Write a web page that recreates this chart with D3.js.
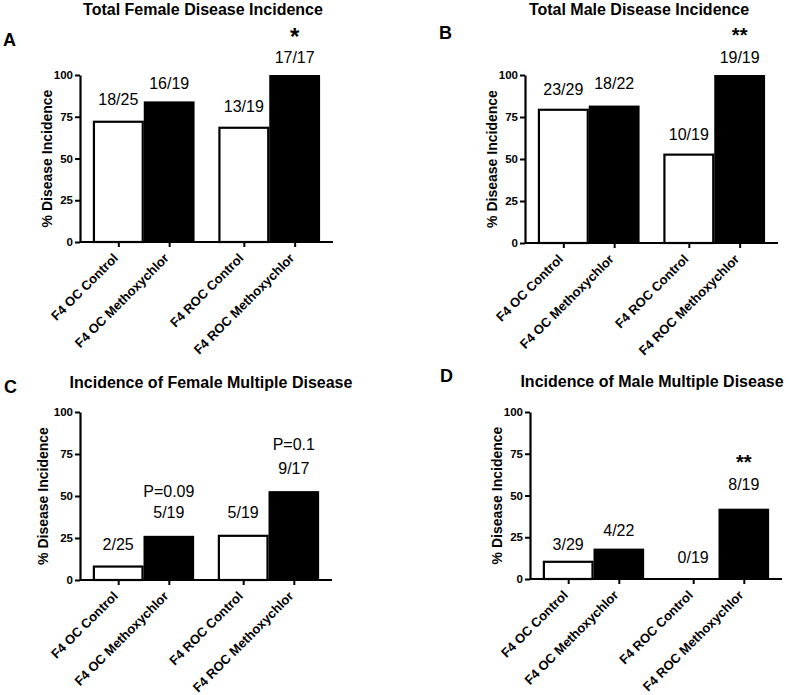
<!DOCTYPE html>
<html>
<head>
<meta charset="utf-8">
<script src="https://cdn.jsdelivr.net/npm/d3@7"></script>
<style>
  body { margin: 0; background: #fff; }
  svg { display: block; font-family: "Liberation Sans", Arial, sans-serif; }
</style>
</head>
<body>
<svg id="chart" width="790" height="695"></svg>
<script>
// ---------- Data ----------
const categories = ["F4 OC Control", "F4 OC Methoxychlor", "F4 ROC Control", "F4 ROC Methoxychlor"];
const isTreated = [false, true, false, true];
const yTicks = [0, 25, 50, 75, 100];

const femaleTotalPct = [72.0, 84.2, 68.4, 100];
const femaleTotalLabels = ["18/25", "16/19", "13/19", "17/17"];
const femaleTotalLabelY = [82, 91.6, 77.8, 107];

const maleTotalPct = [79.3, 81.8, 52.6, 100];
const maleTotalLabels = ["23/29", "18/22", "10/19", "19/19"];
const maleTotalLabelY = [88, 91.7, 61.3, 107];

const femaleMultiPct = [8.0, 26.3, 26.3, 52.9];
const femaleMultiLabels = ["2/25", "5/19", "5/19", "9/17"];
const femaleMultiLabelY = [17.9, 36.9, 36.9, 63];

const maleMultiPct = [10.3, 18.2, 0, 42.1];
const maleMultiLabels = ["3/29", "4/22", "0/19", "8/19"];
const maleMultiLabelY = [17.4, 25.7, 9.6, 53.3];

// significance / p-value annotations: [category index, text, y (in % units)]
const femaleTotalSig = [[3, "*", 118]];
const maleTotalSig = [[3, "**", 119.6]];
const femaleMultiSig = [[1, "P=0.09", 49.4], [3, "P=0.1", 77.4]];
const maleMultiSig = [[3, "**", 65.9]];

const titles = ["Total Female Disease Incidence", "Total Male Disease Incidence",
                "Incidence of Female Multiple Disease", "Incidence of Male Multiple Disease"];
const panelLetters = ["A", "B", "C", "D"];
const yAxisTitle = "% Disease Incidence";

// ---------- Layout ----------
const panels = [
  { values: femaleTotalPct, labels: femaleTotalLabels, labelY: femaleTotalLabelY, sig: femaleTotalSig,
    x0: 80, x1: 333, yTop: 75, yBot: 242, title: titles[0], tx: 203, ty: 15, letter: panelLetters[0], lx: 3, ly: 46, atx: 52, sigSize: 24 },
  { values: maleTotalPct, labels: maleTotalLabels, labelY: maleTotalLabelY, sig: maleTotalSig,
    x0: 525, x1: 778, yTop: 75, yBot: 243, title: titles[1], tx: 639, ty: 15, letter: panelLetters[1], lx: 439, ly: 39, atx: 497, sigSize: 20 },
  { values: femaleMultiPct, labels: femaleMultiLabels, labelY: femaleMultiLabelY, sig: femaleMultiSig,
    x0: 80, x1: 332, yTop: 412, yBot: 580, title: titles[2], tx: 211, ty: 388, letter: panelLetters[2], lx: 4, ly: 393, atx: 48, sigSize: 15 },
  { values: maleMultiPct, labels: maleMultiLabels, labelY: maleMultiLabelY, sig: maleMultiSig,
    x0: 530, x1: 782, yTop: 412, yBot: 579, title: titles[3], tx: 652, ty: 387, letter: panelLetters[3], lx: 440, ly: 382, atx: 502, sigSize: 20 }
];

const svg = d3.select("#chart");
const FONT = "'Liberation Sans', Arial, sans-serif";

panels.forEach(p => {
  const g = svg.append("g");

  const y = d3.scaleLinear().domain([0, 100]).range([p.yBot, p.yTop]);
  const xGroup = d3.scaleBand().domain(["OC", "ROC"]).range([p.x0, p.x1])
    .paddingInner(0.19).paddingOuter(0.103);
  const xInner = d3.scaleBand().domain([0, 1]).range([0, xGroup.bandwidth()]);
  const xPos = i => xGroup(i < 2 ? "OC" : "ROC") + xInner(i % 2);
  const bw = xInner.bandwidth();
  const xCenter = i => xPos(i) + bw / 2;

  // bars
  g.selectAll("rect.bar").data(p.values).join("rect")
    .attr("class", "bar")
    .attr("x", (d, i) => xPos(i) + (isTreated[i] ? 0 : 1))
    .attr("width", (d, i) => bw - (isTreated[i] ? 0 : 2))
    .attr("y", d => y(d))
    .attr("height", d => Math.max(0, p.yBot - y(d)))
    .attr("fill", (d, i) => isTreated[i] ? "#000" : "#fff")
    .attr("stroke", "#000")
    .attr("stroke-width", (d, i) => isTreated[i] ? 0 : 2.2)
    .style("display", d => d > 0 ? null : "none");

  // y axis
  const yAxis = d3.axisLeft(y).tickValues(yTicks).tickSize(5).tickSizeOuter(0).tickPadding(2);
  const ya = g.append("g").attr("transform", `translate(${p.x0},0)`).call(yAxis);
  ya.select(".domain").attr("stroke-width", 2.2);
  ya.selectAll(".tick line").attr("stroke-width", 2);
  ya.selectAll(".tick text").attr("font-size", 11.5).attr("font-weight", "bold")
    .attr("font-family", FONT).attr("fill", "#000");

  // x axis (ticks at bar centers)
  const xTickScale = d3.scaleOrdinal().domain(categories).range(categories.map((c, i) => xCenter(i)));
  const xAxisFn = d3.axisBottom(xTickScale).tickSize(5).tickSizeOuter(0);
  const xa = g.append("g").attr("transform", `translate(0,${p.yBot})`).call(xAxisFn);
  xa.select(".domain").attr("d", `M${p.x0},0H${p.x1}`).attr("stroke-width", 2.2);
  xa.selectAll(".tick line").attr("stroke-width", 2);
  xa.selectAll(".tick text")
    .attr("font-size", 13).attr("font-weight", "bold")
    .attr("font-family", FONT).attr("fill", "#000")
    .attr("x", 0).attr("y", 0).attr("dy", 0)
    .attr("text-anchor", "end")
    .attr("transform", "translate(0,17) rotate(-45)");

  // y axis title
  g.append("text")
    .attr("transform", `translate(${p.atx},${(p.yTop + p.yBot) / 2}) rotate(-90)`)
    .attr("text-anchor", "middle")
    .attr("font-size", 14).attr("font-weight", "bold")
    .text(yAxisTitle);

  // title
  g.append("text").attr("x", p.tx).attr("y", p.ty)
    .attr("text-anchor", "middle").attr("font-size", 16).attr("font-weight", "bold")
    .text(p.title);

  // panel letter
  g.append("text").attr("x", p.lx).attr("y", p.ly)
    .attr("font-size", 18).attr("font-weight", "bold").text(p.letter);

  // bar labels
  g.selectAll("text.lab").data(p.labels).join("text")
    .attr("class", "lab")
    .attr("x", (d, i) => xCenter(i)).attr("y", (d, i) => y(p.labelY[i]))
    .attr("text-anchor", "middle").attr("font-size", 16)
    .text(d => d);

  // significance / p annotations
  g.selectAll("text.sig").data(p.sig).join("text")
    .attr("class", "sig")
    .attr("x", d => xCenter(d[0])).attr("y", d => y(d[2]))
    .attr("text-anchor", "middle")
    .attr("font-size", d => d[1].startsWith("P") ? 16 : p.sigSize)
    .attr("font-weight", d => d[1].startsWith("P") ? "normal" : "bold")
    .text(d => d[1]);
});
</script>
</body>
</html>
